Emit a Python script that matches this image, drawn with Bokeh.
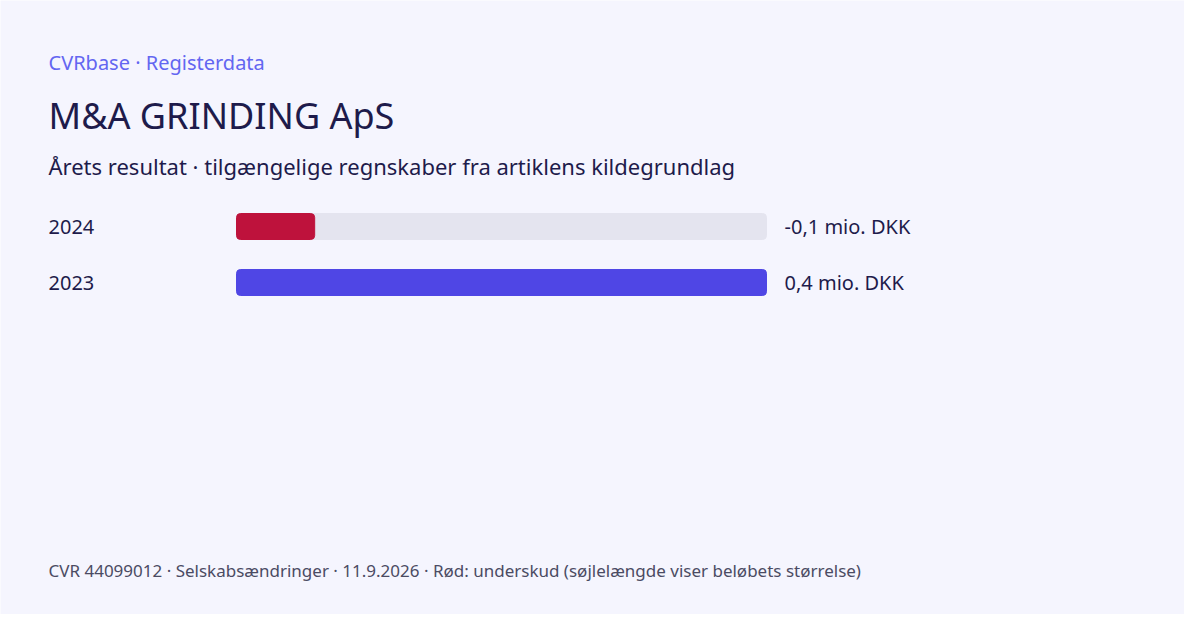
from bokeh.plotting import figure
from bokeh.models import Range1d, Label
from bokeh.embed import file_html
from bokeh.resources import INLINE

# data (mio. DKK)
years = ["2024", "2023"]
results = [-0.059, 0.40]

header = "CVRbase · Registerdata"
title = "M&A GRINDING ApS"
subtitle = "Årets resultat · tilgængelige regnskaber fra artiklens kildegrundlag"
footer = "CVR 44099012 · Selskabsændringer · 11.9.2026 · Rød: underskud (søjlelængde viser beløbets størrelse)"

W, H = 1184, 614
BG = "#f5f5fe"
DARK = "#1e1b4b"
FONT = "Noto Sans"

# bar area in screen px
bar_x0, bar_w = 236, 530
row_y = [226, 282]
vmax = max(abs(v) for v in results)

p = figure(width=W, height=H, output_backend="svg", toolbar_location=None,
           x_range=Range1d(-bar_x0 / bar_w * vmax, (W - bar_x0) / bar_w * vmax),
           y_range=Range1d(H, 0), x_axis_type=None, y_axis_type=None,
           min_border=0, tools="")
p.background_fill_color = BG
p.border_fill_color = BG
p.outline_line_color = None
p.xgrid.grid_line_color = None
p.ygrid.grid_line_color = None

# tracks and bars
p.hbar(y=row_y, left=0, right=[vmax] * len(years), height=26,
       color="#e4e4ef", border_radius=4)
bar_colors = ["#be123c" if v < 0 else "#4f46e5" for v in results]
p.hbar(y=row_y, left=0, right=[abs(v) for v in results], height=26,
       color=bar_colors, border_radius=4)

def add_text(x, y, text, size, color=DARK, baseline="alphabetic"):
    p.add_layout(Label(x=x, y=y, x_units="screen", y_units="data", text=text,
                       text_font=FONT, text_font_size=f"{size}px",
                       text_color=color, text_baseline=baseline))

add_text(48, 62, header, 20, "#6366f1")
add_text(48, 115, title, 36)
add_text(48, 165, subtitle, 22)
for yr, v, y in zip(years, results, row_y):
    add_text(48, y, yr, 20, baseline="middle")
    add_text(bar_x0 + bar_w + 18, y,
             f"{v:.1f}".replace(".", ",") + " mio. DKK", 20, baseline="middle")
add_text(48, 570, footer, 17, "#4b4b63")

open("out.html", "w").write(file_html(p, INLINE))
